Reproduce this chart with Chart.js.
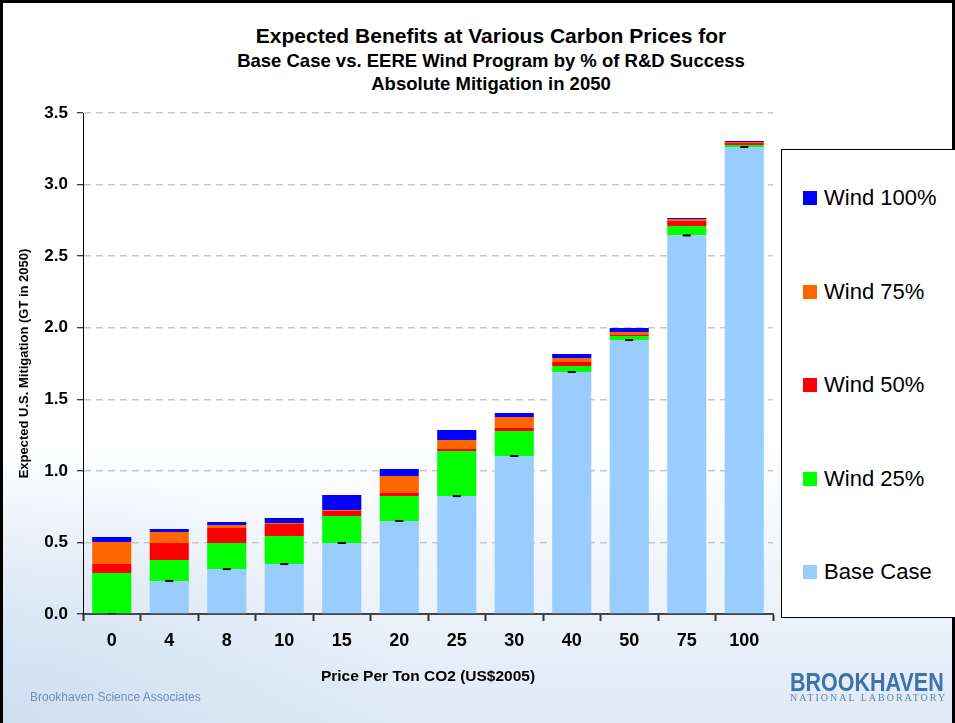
<!DOCTYPE html>
<html>
<head>
<meta charset="utf-8">
<title>Expected Benefits at Various Carbon Prices</title>
<script src="https://cdn.jsdelivr.net/npm/chart.js@4.4.0/dist/chart.umd.min.js"></script>
<style>
  html, body { margin: 0; padding: 0; }
  body {
    width: 955px; height: 723px; position: relative; overflow: hidden;
    font-family: "Liberation Sans", Arial, sans-serif;
    background:
      radial-gradient(ellipse 420px 260px at 0px 723px, rgba(205,222,240,0.9), rgba(205,222,240,0) 100%),
      linear-gradient(to bottom, #ffffff 0%, #ffffff 60%, #edf3fa 82%, #dfeaf6 100%);
  }
  #frame { position: absolute; left: 0; top: 0; width: 949px; height: 730px; border: 3px solid #000; border-bottom: none; }
  .title { position: absolute; left: 0; width: 982px; text-align: center; font-weight: bold; color: #000; }
  #t1 { top: 24px; font-size: 21px; }
  #t2 { top: 50px; font-size: 18.5px; }
  #t3 { top: 73px; font-size: 18.5px; }
  #chartBox { position: absolute; left: 0; top: 0; width: 955px; height: 723px; }
  #legend {
    position: absolute; left: 781px; top: 149px; width: 190px; height: 467px;
    border: 1px solid #000; background: #fff;
  }
  .item { position: absolute; left: 21px; height: 24px; font-size: 22px; line-height: 24px; color: #000; }
  .item span.sw { position: absolute; left: 0; top: 5px; width: 14px; height: 14px; }
  .item span.tx { position: absolute; left: 21px; top: 0; white-space: nowrap; }
  #bsa { position: absolute; left: 30px; top: 690px; font-size: 12px; color: #6f8fb3; }
  #logo1 { position: absolute; left: 790px; top: 668px; font-size: 25px; font-weight: bold; color: #3d72ab; transform: scaleX(0.86); transform-origin: left; }
  #logo2 { position: absolute; left: 790px; top: 692px; font-size: 10px; color: #5a83b2; font-family: "Liberation Serif", serif; letter-spacing: 2px; }
</style>
</head>
<body>
<div id="frame"></div>
<div class="title" id="t1">Expected Benefits at Various Carbon Prices for</div>
<div class="title" id="t2">Base Case vs. EERE Wind Program by % of R&amp;D Success</div>
<div class="title" id="t3">Absolute Mitigation in 2050</div>
<div id="chartBox"><canvas id="myChart"></canvas></div>
<div id="legend"></div>
<div id="bsa">Brookhaven Science Associates</div>
<div id="logo1">BROOKHAVEN</div>
<div id="logo2">NATIONAL LABORATORY</div>
<script>
// price per ton CO2 (US$2005)
const prices = ['0', '4', '8', '10', '15', '20', '25', '30', '40', '50', '75', '100'];

// stacked segments, GT in 2050
const baseCase = [0, 0.231, 0.314, 0.349, 0.496, 0.650, 0.824, 1.104, 1.691, 1.914, 2.645, 3.262];
const wind25  = [0.286, 0.146, 0.182, 0.196, 0.189, 0.174, 0.315, 0.174, 0.042, 0.028, 0.066, 0.014];
const wind50  = [0.063, 0.119, 0.105, 0.084, 0.035, 0.021, 0.014, 0.021, 0.027, 0.007, 0.034, 0.014];
const wind75  = [0.154, 0.077, 0.021, 0.007, 0.007, 0.119, 0.063, 0.077, 0.028, 0.021, 0.014, 0.007];
const wind100 = [0.035, 0.021, 0.021, 0.035, 0.104, 0.049, 0.069, 0.028, 0.028, 0.028, 0.008, 0.008];

const yTicks = [0, 0.5, 1.0, 1.5, 2.0, 2.5, 3.0, 3.5];

const seriesNames = ['Base Case', 'Wind 25%', 'Wind 50%', 'Wind 75%', 'Wind 100%'];
const seriesColors = ['#99ccff', '#00ff00', '#ff0000', '#ff6600', '#0000ff'];
const seriesData = [baseCase, wind25, wind50, wind75, wind100];

let datasets = seriesData.map((d, i) => ({
    type: 'bar',
    label: seriesNames[i],
    data: d,
    backgroundColor: seriesColors[i],
    borderWidth: 0,
    stack: 'mitigation',
    categoryPercentage: 1.0,
    barPercentage: 0.68
}));

// little black marks on top of the base case (drawn above the bars)
datasets.push({
    type: 'line',
    label: 'marks',
    data: baseCase,
    stack: 'marks',
    order: -1,
    showLine: false,
    pointStyle: 'line',
    pointRadius: 4,
    pointBorderWidth: 2,
    pointBorderColor: '#000',
    borderColor: '#000',
    backgroundColor: '#000',
    pointHoverRadius: 4
});

const ctx = document.getElementById('myChart').getContext('2d');
const chart = new Chart(ctx, {
    type: 'bar',
    data: { labels: prices, datasets: datasets },
    options: {
        responsive: true,
        maintainAspectRatio: false,
        animation: false,
        layout: { padding: { left: 14, right: 182, top: 113, bottom: 33 } },
        plugins: {
            legend: { display: false },
            tooltip: { enabled: false }
        },
        scales: {
            x: {
                stacked: true,
                offset: true,
                afterFit: s => { s.height = 76; },
                grid: {
                    display: true, drawOnChartArea: false, drawTicks: true,
                    offset: true, tickLength: 7, color: '#333', tickWidth: 2
                },
                border: { display: true, color: '#444', width: 2 },
                ticks: { color: '#000', padding: 9, font: { family: 'Liberation Sans', size: 18, weight: 'bold' }, maxRotation: 0 },
                title: {
                    display: true, text: 'Price Per Ton CO2 (US$2005)', color: '#000',
                    font: { family: 'Liberation Sans', size: 15.5, weight: 'bold' },
                    padding: { top: 0, bottom: 4 }
                }
            },
            y: {
                stacked: true,
                min: 0, max: 3.5,
                afterFit: s => { s.width = 69; },
                afterBuildTicks: s => { s.ticks = yTicks.map(v => ({ value: v })); },
                grid: {
                    color: '#c8c8c8', lineWidth: 1.5, tickColor: '#000', tickLength: 6,
                    tickWidth: 1, tickBorderDash: []
                },
                border: { display: true, color: '#000', width: 1, dash: [7, 5] },
                ticks: {
                    color: '#000', padding: 9,
                    font: { family: 'Liberation Sans', size: 17, weight: 'bold' },
                    callback: v => Number(v).toFixed(1)
                },
                title: {
                    display: true, text: 'Expected U.S. Mitigation (GT in 2050)', color: '#000',
                    font: { family: 'Liberation Sans', size: 13, weight: 'bold' },
                    padding: { top: 3, bottom: 0 }
                }
            }
        }
    }
});

// legend, top item is the last series
const legendDiv = document.getElementById('legend');
const itemTops = [410, 317, 223, 130, 36];
chart.data.datasets.forEach((ds, i) => {
    if (ds.type !== 'bar') return;
    const el = document.createElement('div');
    el.className = 'item';
    el.style.top = itemTops[i] + 'px';
    el.innerHTML = `<span class="sw" style="background:${ds.backgroundColor}"></span><span class="tx">${ds.label}</span>`;
    legendDiv.appendChild(el);
});
</script>
</body>
</html>
